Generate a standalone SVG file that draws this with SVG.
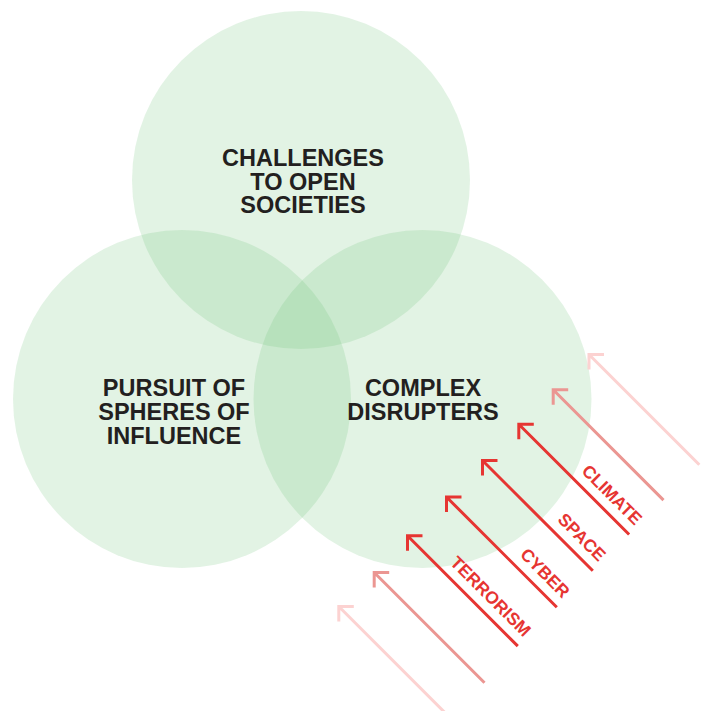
<svg xmlns="http://www.w3.org/2000/svg" width="706" height="711" viewBox="0 0 706 711">
<style>
.c{fill:#6fc27a;fill-opacity:0.2}
.t{font-family:"Liberation Sans",Arial,sans-serif;font-weight:bold;font-size:23.5px;fill:#231f20;text-anchor:middle}
.a{fill:none;stroke-width:3;stroke-linecap:butt;stroke-linejoin:miter}
.r{stroke:#e63532}
.m{stroke:#eb9692}
.l{stroke:#fcd2d1}
.lb{font-family:"Liberation Sans",Arial,sans-serif;font-weight:bold;font-size:17.5px;fill:#e63532;text-anchor:end}
</style>
<rect width="706" height="711" fill="#ffffff"/>
<g id="node-challenges">
<circle class="c" cx="301" cy="180" r="169"/>
<text class="t" x="303" y="166">CHALLENGES</text>
<text class="t" x="303" y="189.5">TO OPEN</text>
<text class="t" x="303" y="213">SOCIETIES</text>
</g>
<g id="node-spheres">
<circle class="c" cx="182" cy="399" r="169"/>
<text class="t" x="174" y="396">PURSUIT OF</text>
<text class="t" x="174" y="420">SPHERES OF</text>
<text class="t" x="174" y="443.5">INFLUENCE</text>
</g>
<g id="node-disrupters">
<circle class="c" cx="422.5" cy="399" r="169"/>
<text class="t" x="423" y="396">COMPLEX</text>
<text class="t" x="423" y="420">DISRUPTERS</text>
</g>
<g id="connectors">
<g transform="translate(589,354.5) rotate(45)"><path class="a l" d="M10.6,-10.6 L0,0 L10.6,10.6 M0,0 L156,0"/></g>
<g transform="translate(553.2,389.8) rotate(45)"><path class="a m" d="M10.6,-10.6 L0,0 L10.6,10.6 M0,0 L156,0"/></g>
<g transform="translate(518.8,424.2) rotate(45)"><path class="a r" d="M10.6,-10.6 L0,0 L10.6,10.6 M0,0 L156,0"/><text class="lb" x="154" y="-10">CLIMATE</text></g>
<g transform="translate(482.5,460.5) rotate(45)"><path class="a r" d="M10.6,-10.6 L0,0 L10.6,10.6 M0,0 L156,0"/><text class="lb" x="154" y="-10">SPACE</text></g>
<g transform="translate(446.5,497) rotate(45)"><path class="a r" d="M10.6,-10.6 L0,0 L10.6,10.6 M0,0 L156,0"/><text class="lb" x="154" y="-10">CYBER</text></g>
<g transform="translate(407.5,535.8) rotate(45)"><path class="a r" d="M10.6,-10.6 L0,0 L10.6,10.6 M0,0 L156,0"/><text class="lb" x="154" y="-10">TERRORISM</text></g>
<g transform="translate(374.2,572.5) rotate(45)"><path class="a m" d="M10.6,-10.6 L0,0 L10.6,10.6 M0,0 L156,0"/></g>
<g transform="translate(338.8,606.5) rotate(45)"><path class="a l" d="M10.6,-10.6 L0,0 L10.6,10.6 M0,0 L156,0"/></g>
</g>
</svg>
